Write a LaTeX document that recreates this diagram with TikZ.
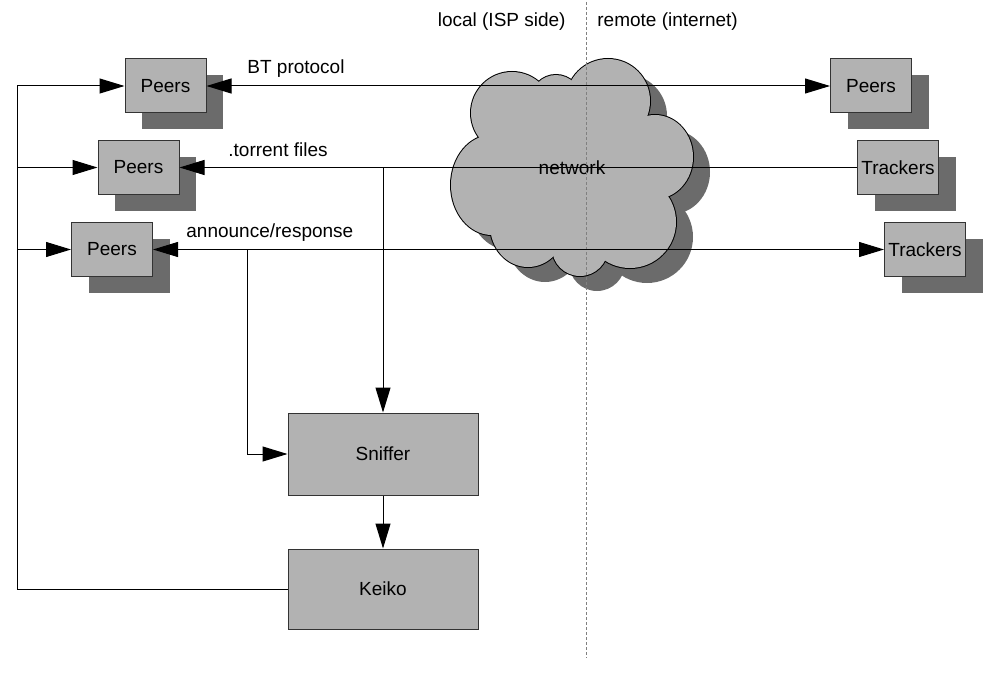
\documentclass[tikz,border=0pt]{standalone}
\usepackage{fontspec}
\setmainfont{Liberation Sans}
\usetikzlibrary{arrows.meta,shadows}
\definecolor{boxgray}{gray}{0.70}
\definecolor{shadegray}{gray}{0.42}

\begin{document}
\begin{tikzpicture}[x=0.5pt, y=-0.5pt, font=\fontsize{9.5pt}{11pt}\selectfont,
    >={Triangle[length=12.5pt,width=7.5pt]},
    box/.style={draw=black!80, fill=boxgray, line width=0.5pt, inner sep=0pt,
      minimum width=40.5pt, minimum height=27pt},
    sbox/.style={box, drop shadow={shadow xshift=8.5pt, shadow yshift=-8pt,
      fill=shadegray, opacity=1}},
    bigbox/.style={box, minimum width=95pt, minimum height=41pt},
    lbl/.style={inner sep=0pt},
    conn/.style={line width=0.5pt}]
    \useasboundingbox (0,0) rectangle (990,674);

    \foreach \cx/\cy/\rx/\ry in {608/101/42/42, 655/157/38/42, 630/222/46/46,
      580/248/28/28, 528/225/38/42, 492/185/41/50, 512/113/41/41,
      556/100/25/25, 575/170/70/70}
      \fill[shadegray] (\cx+17,\cy+15) ellipse [x radius=\rx, y radius=\ry];
    \foreach \cx/\cy/\rx/\ry in {608/101/42/42, 655/157/38/42, 630/222/46/46,
      580/248/28/28, 528/225/38/42, 492/185/41/50, 512/113/41/41,
      556/100/25/25, 575/170/70/70}
      \draw[line width=1pt] (\cx,\cy) ellipse [x radius=\rx, y radius=\ry];
    \foreach \cx/\cy/\rx/\ry in {608/101/42/42, 655/157/38/42, 630/222/46/46,
      580/248/28/28, 528/225/38/42, 492/185/41/50, 512/113/41/41,
      556/100/25/25, 575/170/70/70}
      \fill[boxgray] (\cx,\cy) ellipse [x radius=\rx, y radius=\ry];
    \node[lbl] (net) at (572,168) {network};

    \node[lbl, anchor=east] (loc) at (566,22) {local (ISP side)};
    \node[lbl, anchor=west] (rem) at (597,22) {remote (internet)};
    \coordinate (dtop) at (586.7,2);
    \coordinate (dbot) at (586.7,658);
    \draw[gray, line width=0.5pt, dash pattern=on 1.5pt off 1pt] (dtop) -- (dbot);

    \node[sbox] (p1) at (165.5,86) {Peers};
    \node[sbox] (p2) at (138.5,167.5) {Peers};
    \node[sbox] (p3) at (112,249.5) {Peers};
    \node[sbox] (rp) at (871,86) {Peers};
    \node[sbox] (t1) at (898,167.5) {Trackers};
    \node[sbox] (t2) at (925,249.5) {Trackers};
    \node[bigbox] (sn) at (383,454) {Sniffer};
    \node[bigbox, minimum height=40pt] (ke) at (383,589) {Keiko};

    \node[lbl, anchor=west] (lbt) at (247,69) {BT protocol};
    \node[lbl, anchor=west] (ltf) at (228,150) {.torrent files};
    \node[lbl, anchor=west] (lar) at (186,233) {announce/response};

    \draw[conn,<->] (p1.east) -- (rp.west);
    \draw[conn,<-] (p2.east) -- (t1.west);
    \draw[conn,<->] (p3.east) -- (t2.west);
    \coordinate (b2) at (383,167.5);
    \coordinate (b3) at (247,249.5);
    \coordinate (lt) at (17,86);
    \draw[conn,->] (b2) -- (sn.north);
    \draw[conn,->] (b3) |- (sn.west);
    \draw[conn,->] (sn) -- (ke);
    \draw[conn,->] (ke.west) -| (lt) -- (p1.west);
    \draw[conn,->] (lt |- p2) -- (p2.west);
    \draw[conn,->] (lt |- p3) -- (p3.west);
\end{tikzpicture}
\end{document}
